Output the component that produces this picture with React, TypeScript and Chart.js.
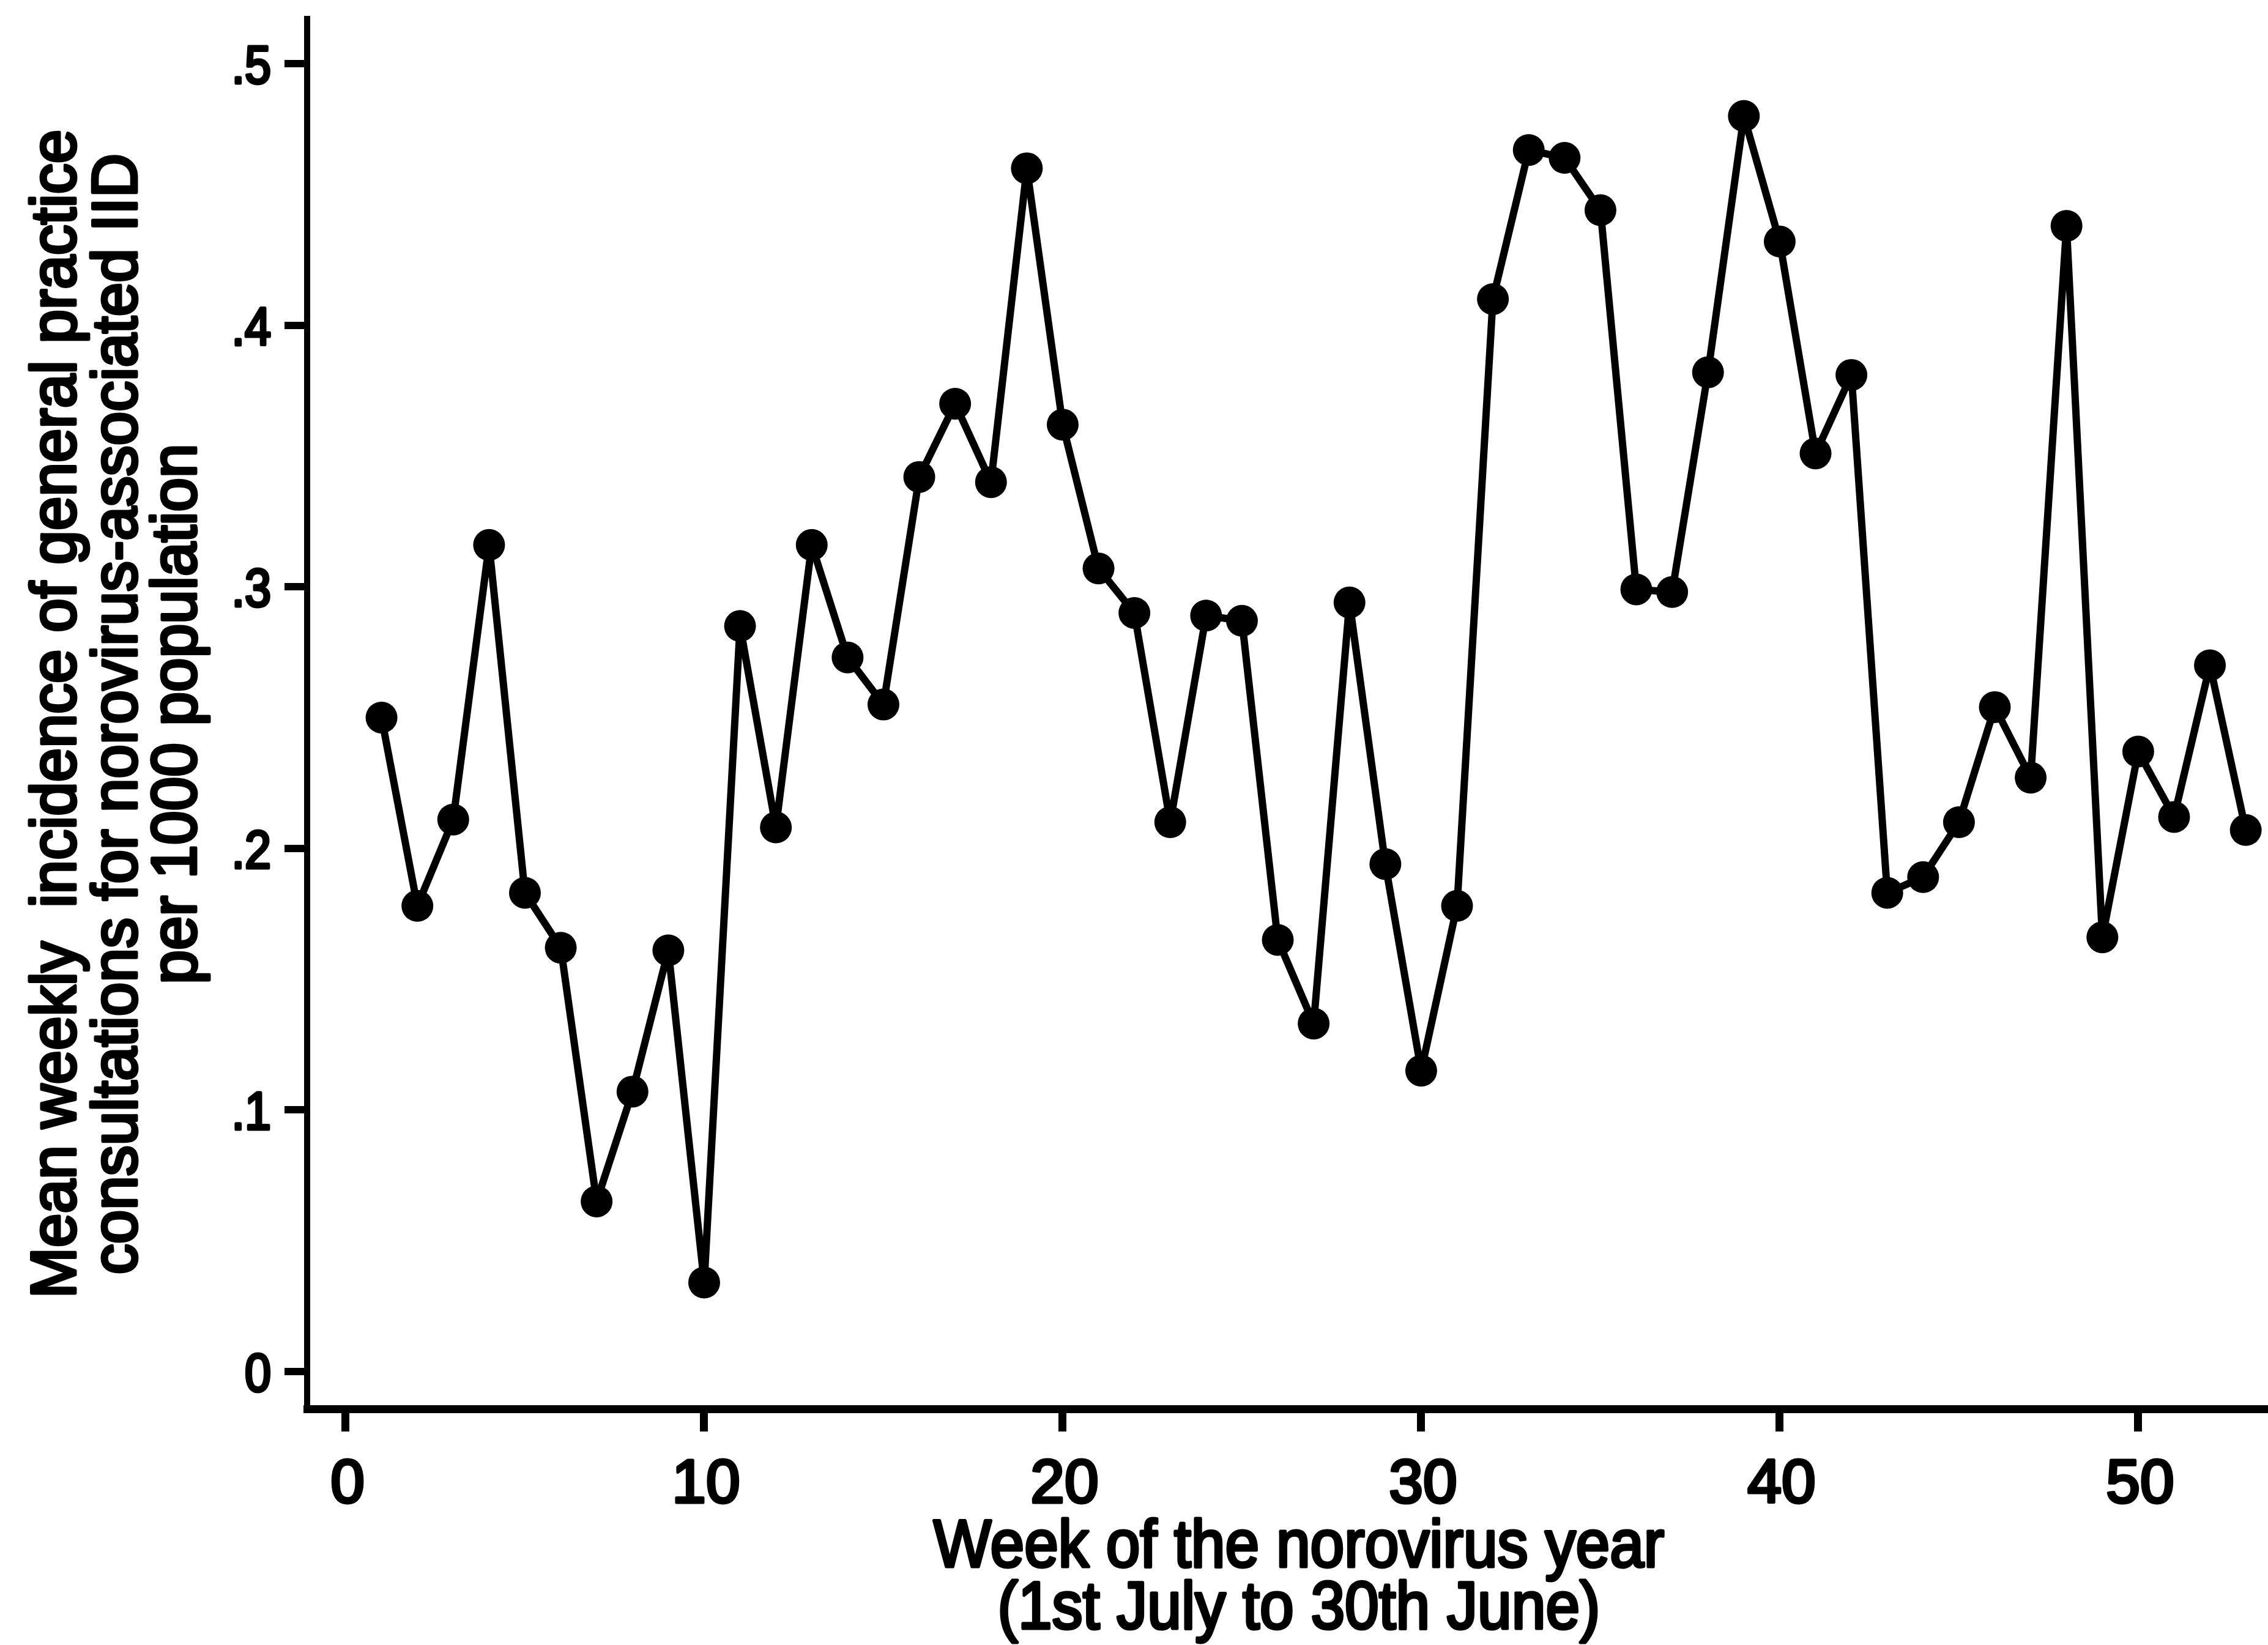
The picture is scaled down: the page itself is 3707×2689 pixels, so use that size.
import React, { useEffect, useRef } from "react";
import { Chart, registerables } from "chart.js";

Chart.register(...registerables);

// Week of the norovirus year (1 = first week of July)
const weeks = [
  1, 2, 3, 4, 5, 6, 7, 8, 9, 10, 11, 12, 13, 14, 15, 16, 17, 18, 19, 20,
  21, 22, 23, 24, 25, 26, 27, 28, 29, 30, 31, 32, 33, 34, 35, 36, 37, 38, 39, 40,
  41, 42, 43, 44, 45, 46, 47, 48, 49, 50, 51, 52, 53,
];

// Mean weekly GP consultation incidence per 1000 population
const incidence = [
  0.25, 0.178, 0.211, 0.316, 0.183, 0.162, 0.065, 0.107, 0.161, 0.034,
  0.285, 0.208, 0.316, 0.273, 0.255, 0.342, 0.37, 0.34, 0.46, 0.362,
  0.307, 0.29, 0.21, 0.289, 0.287, 0.165, 0.133, 0.294, 0.194, 0.115,
  0.178, 0.41, 0.467, 0.464, 0.444, 0.299, 0.298, 0.382, 0.48, 0.432,
  0.351, 0.381, 0.183, 0.189, 0.21, 0.254, 0.227, 0.438, 0.166, 0.237,
  0.212, 0.27, 0.207,
];

const xTickValues = [0, 10, 20, 30, 40, 50];
const xTickLabels = ["0", "10", "20", "30", "40", "50"];
const yTickValues = [0, 0.1, 0.2, 0.3, 0.4, 0.5];
const yTickLabels = ["0", ".1", ".2", ".3", ".4", ".5"];

const xTitleLines = ["Week of the norovirus year", "(1st July to 30th June)"];
const yTitleLines = [
  "Mean weekly  incidence of general practice",
  "consultations for norovirus-associated IID",
  "per 1000 population",
];

const W = 3707;
const H = 2689;
const FONT = '"Liberation Sans", Arial, Helvetica, sans-serif';

function drawText(
  ctx: CanvasRenderingContext2D,
  text: string,
  x: number,
  y: number,
  size: number,
  sx: number,
  align: CanvasTextAlign,
  rotate: boolean
) {
  ctx.save();
  ctx.translate(x, y);
  if (rotate) ctx.rotate(-Math.PI / 2);
  ctx.scale(sx, 1);
  ctx.font = `${size}px ${FONT}`;
  ctx.textAlign = align;
  ctx.textBaseline = "alphabetic";
  ctx.fillStyle = "#000";
  ctx.strokeStyle = "#000";
  ctx.lineWidth = 5;
  ctx.lineJoin = "round";
  ctx.fillText(text, 0, 0);
  ctx.strokeText(text, 0, 0);
  ctx.restore();
}

// Tick labels and axis titles in a heavy, slightly condensed Helvetica style
const labelsPlugin = {
  id: "stataLabels",
  beforeDraw(chart: any) {
    const ctx = chart.ctx as CanvasRenderingContext2D;
    ctx.save();
    ctx.fillStyle = "#fff";
    ctx.fillRect(0, 0, chart.width, chart.height);
    ctx.restore();
  },
  afterDraw(chart: any) {
    const ctx = chart.ctx as CanvasRenderingContext2D;
    const xs = chart.scales.x;
    const ys = chart.scales.y;
    const area = chart.chartArea;

    yTickValues.forEach((v, i) => {
      const py = ys.getPixelForValue(v);
      drawText(ctx, yTickLabels[i], area.left - 59, py + 32, 88, 0.88, "right", false);
    });
    xTickValues.forEach((v, i) => {
      const px = xs.getPixelForValue(v);
      drawText(ctx, xTickLabels[i], px + 3, area.bottom + 153, 100, 1, "center", false);
    });

    const xTitleCenter = 2123;
    drawText(ctx, xTitleLines[0], xTitleCenter, area.bottom + 258, 110, 0.91, "center", false);
    drawText(ctx, xTitleLines[1], xTitleCenter, area.bottom + 359, 110, 0.91, "center", false);

    const yTitleCenter = (area.top + area.bottom) / 2;
    const baselines = [123, 223, 320];
    yTitleLines.forEach((t, i) => {
      drawText(ctx, t, baselines[i], yTitleCenter, 103, 0.97, "center", true);
    });
  },
};

export default function App() {
  const canvasRef = useRef<HTMLCanvasElement | null>(null);

  useEffect(() => {
    document.body.style.margin = "0";
    document.body.style.overflow = "hidden";
    const canvas = canvasRef.current;
    if (!canvas) return;

    const points = weeks.map((w, i) => ({ x: w, y: incidence[i] }));

    const chart = new Chart(canvas, {
      type: "line",
      data: {
        datasets: [
          {
            data: points,
            borderColor: "#000",
            borderWidth: 12,
            borderJoinStyle: "round",
            borderCapStyle: "round",
            backgroundColor: "#000",
            pointRadius: 26,
            pointHoverRadius: 26,
            pointBorderWidth: 0,
            pointBackgroundColor: "#000",
            tension: 0,
            clip: false as any,
          },
        ],
      },
      options: {
        responsive: false,
        animation: false,
        devicePixelRatio: 1,
        layout: {
          autoPadding: false,
          padding: { left: 502, top: 31, right: 0, bottom: H - 2303 },
        },
        plugins: { legend: { display: false }, tooltip: { enabled: false } },
        scales: {
          x: {
            type: "linear",
            min: -1.075,
            max: 53.62,
            afterFit: (s: any) => {
              s.height = 0;
            },
            afterBuildTicks: (s: any) => {
              s.ticks = xTickValues.map((v) => ({ value: v }));
            },
            ticks: { display: false },
            grid: {
              display: true,
              drawOnChartArea: false,
              drawTicks: true,
              tickLength: 37,
              lineWidth: 13,
              color: "#000",
            },
            border: { display: true, width: 13, color: "#000" },
          },
          y: {
            type: "linear",
            min: -0.0143,
            max: 0.5171,
            afterFit: (s: any) => {
              s.width = 0;
            },
            afterBuildTicks: (s: any) => {
              s.ticks = yTickValues.map((v) => ({ value: v }));
            },
            ticks: { display: false },
            grid: {
              display: true,
              drawOnChartArea: false,
              drawTicks: true,
              tickLength: 37,
              lineWidth: 12,
              color: "#000",
            },
            border: { display: true, width: 10, color: "#000" },
          },
        },
      },
      plugins: [labelsPlugin],
    });

    return () => chart.destroy();
  }, []);

  return (
    <canvas
      ref={canvasRef}
      width={W}
      height={H}
      style={{ display: "block", width: W, height: H }}
    />
  );
}
